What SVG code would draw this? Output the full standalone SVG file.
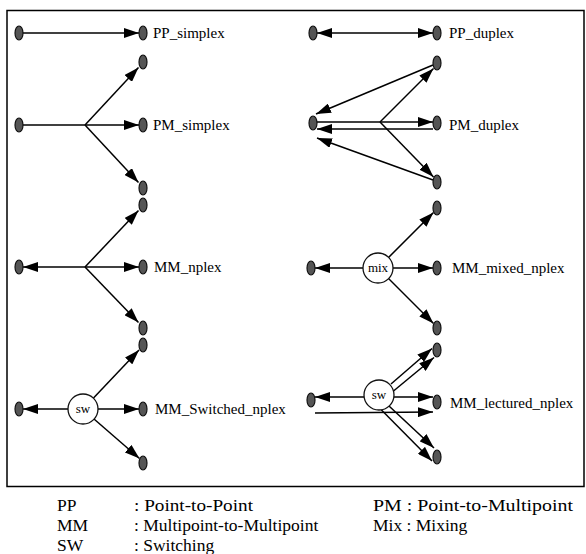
<svg xmlns="http://www.w3.org/2000/svg" width="586" height="554" viewBox="0 0 586 554">
<defs>
<style>
.nd{fill:#555;stroke:#111;stroke-width:1.2}
.hub{fill:#fff;stroke:#111;stroke-width:1.3}
.ln{stroke:#000;stroke-width:1.5;fill:none}
.ar{marker-end:url(#ah)}
.as{marker-start:url(#ah)}
.lbl{font-size:15px;fill:#000}
.hubt{font-size:13px;fill:#000;text-anchor:middle}
.leg{font-size:17.5px;fill:#000}
</style>
<marker id="ah" viewBox="0 0 15 10" refX="15" refY="5" markerWidth="15" markerHeight="10" markerUnits="userSpaceOnUse" orient="auto-start-reverse">
<path d="M0,0 L15,5 L0,10 z" fill="#000"/>
</marker>
</defs>
<rect x="7" y="10.5" width="577" height="476" fill="none" stroke="#000" stroke-width="1.5"/>
<g id="connectors">
<line class="ln ar" x1="23" y1="33" x2="139" y2="33"/>
<line class="ln ar" x1="23" y1="125" x2="139" y2="125"/>
<line class="ln ar" x1="85" y1="125" x2="138.5" y2="67.5"/>
<line class="ln ar" x1="85" y1="125" x2="138.5" y2="182.5"/>
<line class="ln ar" x1="85" y1="267" x2="23" y2="267"/>
<line class="ln ar" x1="85" y1="267" x2="139" y2="267"/>
<line class="ln ar" x1="85" y1="267" x2="138.5" y2="210.5"/>
<line class="ln ar" x1="85" y1="267" x2="138.5" y2="322.5"/>
<line class="ln ar" x1="68" y1="409" x2="23" y2="409"/>
<line class="ln ar" x1="98" y1="409" x2="139" y2="409"/>
<line class="ln ar" x1="93.5" y1="398" x2="139" y2="350"/>
<line class="ln ar" x1="94" y1="419" x2="139.5" y2="458.5"/>
<line class="ln ar as" x1="317" y1="33" x2="433" y2="33"/>
<line class="ln ar" x1="317" y1="122" x2="433" y2="122"/>
<line class="ln ar" x1="433" y1="129" x2="317" y2="129"/>
<line class="ln ar" x1="380" y1="122" x2="433.5" y2="68.5"/>
<line class="ln ar" x1="380" y1="122" x2="433.5" y2="177"/>
<line class="ln ar" x1="433" y1="65" x2="316" y2="114"/>
<line class="ln ar" x1="433" y1="180" x2="317" y2="138"/>
<line class="ln ar" x1="363" y1="268" x2="315" y2="268"/>
<line class="ln ar" x1="393" y1="268" x2="433" y2="268"/>
<line class="ln ar" x1="388.5" y1="257.5" x2="433.5" y2="212.5"/>
<line class="ln ar" x1="388.5" y1="278.5" x2="433.5" y2="323.5"/>
<line class="ln ar" x1="364" y1="397" x2="315" y2="397"/>
<line class="ln ar" x1="394" y1="397" x2="433" y2="397"/>
<line class="ln ar" x1="315" y1="413" x2="433" y2="412"/>
<line class="ln ar" x1="391" y1="384" x2="432" y2="348.5"/>
<line class="ln ar" x1="393.5" y1="391" x2="434" y2="357.5"/>
<line class="ln ar" x1="389" y1="406" x2="434" y2="448"/>
<line class="ln ar" x1="381" y1="409.5" x2="432" y2="461"/>
</g>
<g font-family="'Liberation Serif', 'Times New Roman', 'DejaVu Serif', serif">
<g id="pp_simplex">
<ellipse class="nd" cx="19" cy="33" rx="4" ry="7"/>
<ellipse class="nd" cx="143" cy="33" rx="4" ry="7"/>
<text class="lbl" x="153" y="38">PP_simplex</text>
</g>
<g id="pm_simplex">
<ellipse class="nd" cx="19" cy="125" rx="4" ry="7"/>
<ellipse class="nd" cx="143" cy="62" rx="4" ry="7"/>
<ellipse class="nd" cx="143" cy="125" rx="4" ry="7"/>
<ellipse class="nd" cx="143" cy="188" rx="4" ry="7"/>
<text class="lbl" x="153" y="130">PM_simplex</text>
</g>
<g id="mm_nplex">
<ellipse class="nd" cx="19" cy="267" rx="4" ry="7"/>
<ellipse class="nd" cx="143" cy="205" rx="4" ry="7"/>
<ellipse class="nd" cx="143" cy="267" rx="4" ry="7"/>
<ellipse class="nd" cx="143" cy="328" rx="4" ry="7"/>
<text class="lbl" x="154" y="272">MM_nplex</text>
</g>
<g id="mm_switched_nplex">
<ellipse class="nd" cx="19" cy="409" rx="4" ry="7"/>
<ellipse class="nd" cx="143" cy="345" rx="4" ry="7"/>
<ellipse class="nd" cx="143" cy="409" rx="4" ry="7"/>
<ellipse class="nd" cx="143" cy="463" rx="4" ry="7"/>
<circle class="hub" cx="83" cy="409" r="15"/>
<text class="hubt" x="83" y="413">sw</text>
<text class="lbl" x="155" y="414">MM_Switched_nplex</text>
</g>
<g id="pp_duplex">
<ellipse class="nd" cx="313" cy="33" rx="4" ry="7"/>
<ellipse class="nd" cx="437" cy="33" rx="4" ry="7"/>
<text class="lbl" x="449" y="38">PP_duplex</text>
</g>
<g id="pm_duplex">
<ellipse class="nd" cx="313" cy="123" rx="4" ry="7"/>
<ellipse class="nd" cx="437" cy="63" rx="4" ry="7"/>
<ellipse class="nd" cx="437" cy="123" rx="4" ry="7"/>
<ellipse class="nd" cx="437" cy="182" rx="4" ry="7"/>
<text class="lbl" x="449" y="130">PM_duplex</text>
</g>
<g id="mm_mixed_nplex">
<ellipse class="nd" cx="311" cy="268" rx="4" ry="7"/>
<ellipse class="nd" cx="437" cy="208" rx="4" ry="7"/>
<ellipse class="nd" cx="437" cy="268" rx="4" ry="7"/>
<ellipse class="nd" cx="437" cy="328" rx="4" ry="7"/>
<circle class="hub" cx="378" cy="268" r="15"/>
<text class="hubt" x="378" y="272">mix</text>
<text class="lbl" x="452" y="273">MM_mixed_nplex</text>
</g>
<g id="mm_lectured_nplex">
<ellipse class="nd" cx="311" cy="400" rx="4" ry="7"/>
<ellipse class="nd" cx="437" cy="350" rx="4" ry="7"/>
<ellipse class="nd" cx="437" cy="402" rx="4" ry="7"/>
<ellipse class="nd" cx="437" cy="457" rx="4" ry="7"/>
<circle class="hub" cx="379" cy="395" r="15"/>
<text class="hubt" x="379" y="399">sw</text>
<text class="lbl" x="450" y="408">MM_lectured_nplex</text>
</g>
<g id="legend">
<text class="leg" x="57" y="511">PP</text>
<text class="leg" x="134" y="511" textLength="119" lengthAdjust="spacingAndGlyphs">: Point-to-Point</text>
<text class="leg" x="373" y="511" textLength="200" lengthAdjust="spacingAndGlyphs">PM : Point-to-Multipoint</text>
<text class="leg" x="57" y="531">MM</text>
<text class="leg" x="134" y="531">: Multipoint-to-Multipoint</text>
<text class="leg" x="373" y="531">Mix : Mixing</text>
<text class="leg" x="57" y="551">SW</text>
<text class="leg" x="134" y="551">: Switching</text>
</g>
</g>
</svg>
